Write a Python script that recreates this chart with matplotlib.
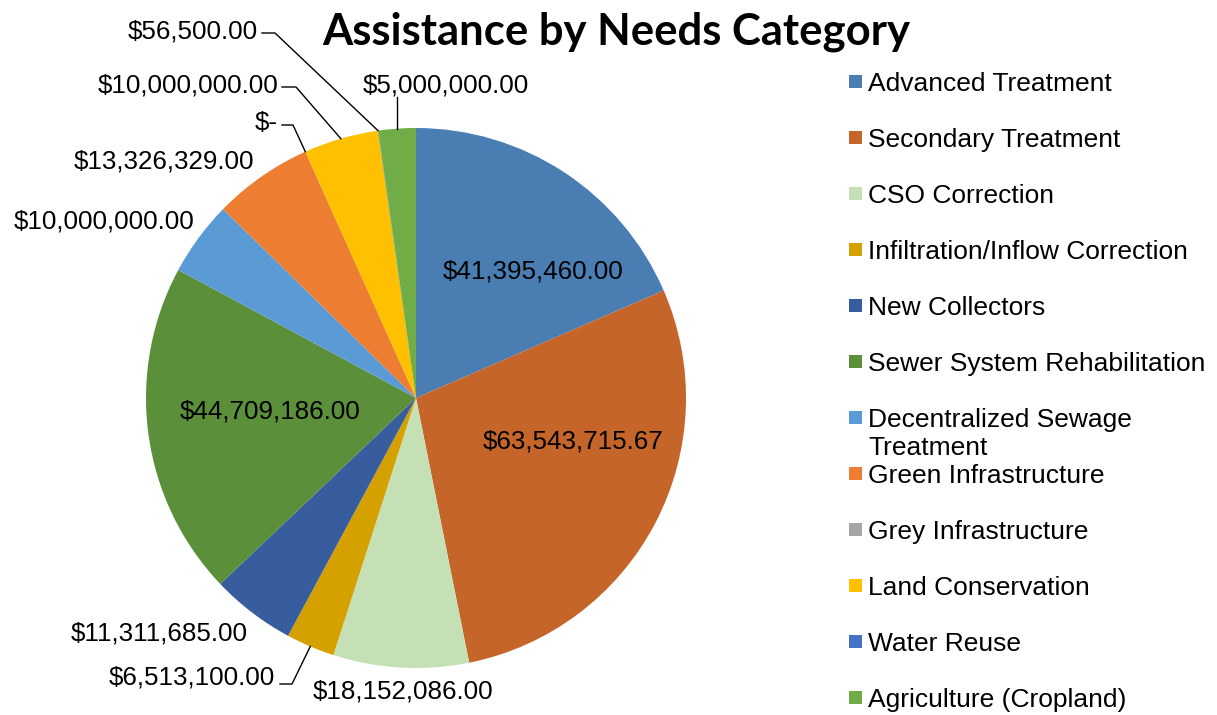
import matplotlib
matplotlib.use("Agg")
import matplotlib.pyplot as plt
from matplotlib.patches import Rectangle
import math

categories = ["Advanced Treatment", "Secondary Treatment", "CSO Correction",
              "Infiltration/Inflow Correction", "New Collectors",
              "Sewer System Rehabilitation", "Decentralized Sewage\nTreatment",
              "Green Infrastructure", "Grey Infrastructure", "Land Conservation",
              "Water Reuse", "Agriculture (Cropland)"]
values = [41395460.00, 63543715.67, 18152086.00, 6513100.00, 11311685.00,
          44709186.00, 10000000.00, 13326329.00, 0.0, 10000000.00,
          56500.00, 5000000.00]
colors = ["#4A7EB3", "#C5652A", "#C6E0B6", "#D4A100", "#375D9F", "#5B8F3A",
          "#5B9BD5", "#ED7D31", "#A5A5A5", "#FFC000", "#4472C4", "#70AD47"]


def fmt(v):
    return "$-" if v == 0 else "${:,.2f}".format(v)


W, H = 1217, 715
fig = plt.figure(figsize=(W / 100, H / 100), dpi=100)
cx, cy, R = 416, 398, 270
ax = fig.add_axes([(cx - R) / W, (H - cy - R) / H, 2 * R / W, 2 * R / H])
wedges, _ = ax.pie(values, colors=colors, startangle=90, counterclock=False,
                   radius=1, wedgeprops=dict(linewidth=0))
ax.set_xlim(-1, 1)
ax.set_ylim(-1, 1)
ax.set_aspect("equal")
ax.axis("off")


def d(px, py):
    return ((px - cx) / R, (cy - py) / R)


# label placement: (x, y, ha, elbow)  in pixels
place = [
    (533, 272, "center", None),
    (573, 441, "center", None),
    (403, 691, "center", None),
    (275, 677, "right", [(280, 684), (292, 684)]),
    (248, 633, "right", None),
    (270, 412, "center", None),
    (194, 222, "right", None),
    (254, 162, "right", None),
    (278, 123, "right", [(282, 125), (293, 125)]),
    (278, 85, "right", [(282, 87), (296, 87)]),
    (258, 31, "right", [(262, 33), (275, 33)]),
    (446, 86, "center", "vert"),
]

for w, v, (px, py, ha, elb) in zip(wedges, values, place):
    tx, ty = d(px, py)
    ax.text(tx, ty, fmt(v), ha=ha, va="center", fontsize=18.7,
            family="Liberation Sans", color="black", clip_on=False)
    mid = math.radians((w.theta1 + w.theta2) / 2)
    sx, sy = math.cos(mid), math.sin(mid)
    if elb == "vert":
        ex, ey = d(0, 97)
        ax.plot([sx, sx], [sy, ey], color="black", lw=1, clip_on=False)
    elif elb is not None:
        pts = [d(*p) for p in elb] + [(sx, sy)]
        ax.plot([p[0] for p in pts], [p[1] for p in pts], color="black",
                lw=1, clip_on=False)

fig.text(616 / W, 1 - 32 / H, "Assistance by Needs Category", ha="center",
         va="center", fontsize=31.4, fontweight="bold", family="Lato")

# legend
for i, (name, c) in enumerate(zip(categories, colors)):
    y = 82 + 56 * i
    fig.patches.append(Rectangle((849 / W, 1 - (y + 6) / H), 13 / W, 13 / H,
                                 transform=fig.transFigure, facecolor=c,
                                 edgecolor="none"))
    fig.text(868 / W, 1 - (y - 10) / H, name, ha="left", va="top",
             fontsize=19, family="Liberation Sans", linespacing=1.22)

fig.savefig("out.png", dpi=100)
